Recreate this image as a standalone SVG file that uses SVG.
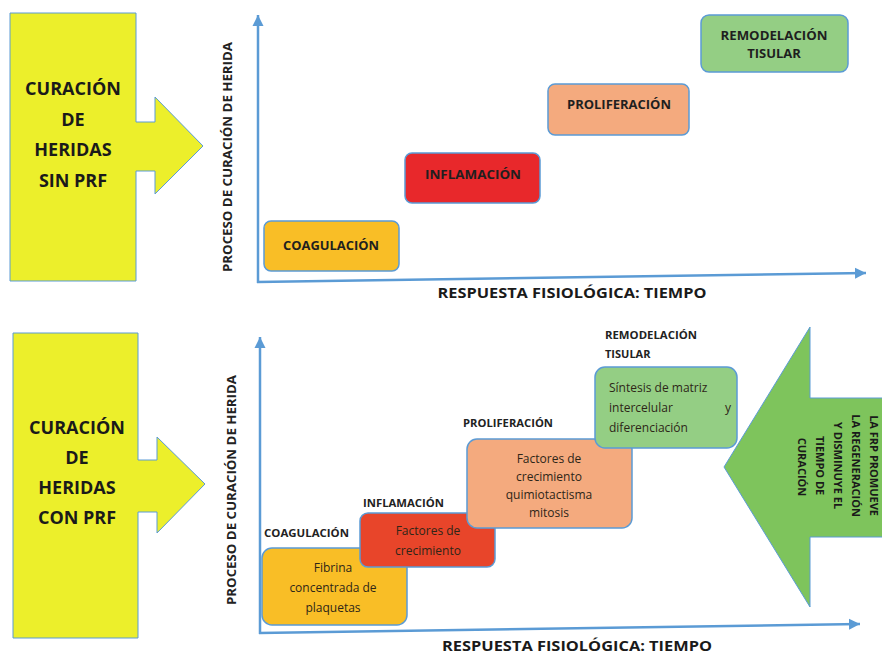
<svg xmlns="http://www.w3.org/2000/svg" width="882" height="654" viewBox="0 0 882 654">
<defs>
<marker id="ah" markerUnits="userSpaceOnUse" markerWidth="12" markerHeight="12" refX="11" refY="6" orient="auto">
<path d="M0,0.5 L11,6 L0,11.5 z" fill="#5B9BD5"/>
</marker>
<style>
.big{font-family:"Open Sans","Liberation Sans",sans-serif;font-weight:bold;font-size:18px;fill:#1a1a1a;text-anchor:middle}
.vlab{font-family:"Open Sans","Liberation Sans",sans-serif;font-weight:bold;font-size:11.5px;fill:#222;text-anchor:middle}
.axlab{font-family:"Open Sans","Liberation Sans",sans-serif;font-weight:bold;font-size:13.5px;fill:#1a1a1a;text-anchor:middle}
.bt{font-family:"Open Sans","Liberation Sans",sans-serif;font-weight:bold;font-size:13px;fill:#1f1f1f;text-anchor:middle}
.st{font-family:"Open Sans","Liberation Sans",sans-serif;font-weight:bold;font-size:11px;fill:#222}
.nt{font-family:"Open Sans","Liberation Sans",sans-serif;font-size:12px;fill:#2e2618;text-anchor:middle}
.gt{font-family:"Open Sans","Liberation Sans",sans-serif;font-weight:bold;font-size:11px;fill:#1a1a1a;text-anchor:middle}
.box{stroke:#5B9BD5;stroke-width:1.5}
.shape{stroke:#5B9BD5;stroke-width:1}
.axis{stroke:#5B9BD5;stroke-width:2.5;fill:none}
</style>
</defs>
<rect width="882" height="654" fill="#ffffff"/>

<g id="connectors">
<line class="axis" x1="258" y1="283" x2="258" y2="15" marker-end="url(#ah)"/>
<line class="axis" x1="257" y1="282" x2="866" y2="273" marker-end="url(#ah)"/>
<line class="axis" x1="260" y1="634" x2="260" y2="337" marker-end="url(#ah)"/>
<line class="axis" x1="259" y1="633" x2="860" y2="624" marker-end="url(#ah)"/>
</g>

<g id="sin-prf">
<polygon class="shape" fill="#ECEF2B" points="10,13 136,13 136,122 155,122 155,97 203,146 155,194 155,171 136,171 136,281 10,281"/>
<text class="big" x="73" y="95">CURACIÓN</text>
<text class="big" x="73" y="126">DE</text>
<text class="big" x="73" y="156">HERIDAS</text>
<text class="big" x="73" y="187">SIN PRF</text>
</g>

<g id="con-prf">
<polygon class="shape" fill="#ECEF2B" points="13,333 138,333 138,460 157,460 157,437 205,484 157,533 157,512 138,512 138,638 13,638"/>
<text class="big" x="77" y="434">CURACIÓN</text>
<text class="big" x="77" y="464">DE</text>
<text class="big" x="77" y="494">HERIDAS</text>
<text class="big" x="77" y="524">CON PRF</text>
</g>

<g id="labels-top">
<text class="vlab" transform="translate(232,157) rotate(-90)" textLength="230" lengthAdjust="spacingAndGlyphs">PROCESO DE CURACIÓN  DE HERIDA</text>
<text class="axlab" x="572" y="298" textLength="269" lengthAdjust="spacingAndGlyphs">RESPUESTA FISIOLÓGICA: TIEMPO</text>
</g>

<g id="coag-top">
<rect class="box" x="264" y="221" width="135" height="50" rx="7" fill="#F9BE26"/>
<text class="bt" x="331" y="250" textLength="96" lengthAdjust="spacingAndGlyphs">COAGULACIÓN</text>
</g>
<g id="infl-top">
<rect class="box" x="405" y="153" width="135" height="50" rx="7" fill="#E8282B"/>
<text class="bt" x="473" y="179" textLength="96" lengthAdjust="spacingAndGlyphs">INFLAMACIÓN</text>
</g>
<g id="prol-top">
<rect class="box" x="548" y="84" width="141" height="51" rx="7" fill="#F4AA7E"/>
<text class="bt" x="619" y="109" textLength="104" lengthAdjust="spacingAndGlyphs">PROLIFERACIÓN</text>
</g>
<g id="remo-top">
<rect class="box" x="701" y="15" width="147" height="57" rx="8" fill="#94CE84"/>
<text class="bt" x="774" y="40" textLength="107" lengthAdjust="spacingAndGlyphs">REMODELACIÓN</text>
<text class="bt" x="774" y="58">TISULAR</text>
</g>

<g id="labels-bottom">
<text class="vlab" transform="translate(236,490) rotate(-90)" textLength="230" lengthAdjust="spacingAndGlyphs">PROCESO DE CURACIÓN  DE HERIDA</text>
<text class="axlab" x="577" y="651" textLength="270" lengthAdjust="spacingAndGlyphs">RESPUESTA FISIOLÓGICA: TIEMPO</text>
</g>

<g id="coag-bottom">
<text class="st" x="264" y="537" textLength="85" lengthAdjust="spacingAndGlyphs">COAGULACIÓN</text>
<rect class="box" x="262" y="548" width="145" height="77" rx="10" fill="#F9BE26"/>
<text class="nt" x="333" y="572">Fibrina</text>
<text class="nt" x="333" y="592">concentrada de</text>
<text class="nt" x="333" y="612">plaquetas</text>
</g>
<g id="infl-bottom">
<text class="st" x="363" y="507" textLength="81" lengthAdjust="spacingAndGlyphs">INFLAMACIÓN</text>
<rect class="box" x="360" y="513" width="135" height="54" rx="8" fill="#E8452A"/>
<text class="nt" x="428" y="535">Factores de</text>
<text class="nt" x="428" y="555">crecimiento</text>
</g>
<g id="prol-bottom">
<text class="st" x="463" y="427" textLength="90" lengthAdjust="spacingAndGlyphs">PROLIFERACIÓN</text>
<rect class="box" x="467" y="439" width="165" height="89" rx="10" fill="#F4AA7E"/>
<text class="nt" x="549" y="463">Factores de</text>
<text class="nt" x="549" y="481">crecimiento</text>
<text class="nt" x="549" y="499">quimiotactisma</text>
<text class="nt" x="549" y="517">mitosis</text>
</g>
<g id="remo-bottom">
<text class="st" x="605" y="339" textLength="92" lengthAdjust="spacingAndGlyphs">REMODELACIÓN</text>
<text class="st" x="605" y="358">TISULAR</text>
<rect class="box" x="595" y="367" width="142" height="81" rx="10" fill="#94CE84"/>
<text class="nt" x="609" y="392" style="text-anchor:start">Síntesis de matriz</text>
<text class="nt" x="609" y="412" style="text-anchor:start">intercelular</text>
<text class="nt" x="731" y="412" style="text-anchor:end">y</text>
<text class="nt" x="609" y="432" style="text-anchor:start">diferenciación</text>
</g>

<g id="prf-arrow">
<polygon class="shape" fill="#7EC45C" points="886,398 810,398 810,327 724,467 810,607 810,537 886,537"/>
<text class="gt" transform="rotate(90)">
<tspan x="467" y="-870">LA FRP PROMUEVE</tspan>
<tspan x="467" y="-852">LA REGENERACIÓN</tspan>
<tspan x="467" y="-834">Y DISMINUYE EL</tspan>
<tspan x="467" y="-816">TIEMPO DE</tspan>
<tspan x="467" y="-798">CURACIÓN</tspan>
</text>
</g>
</svg>
